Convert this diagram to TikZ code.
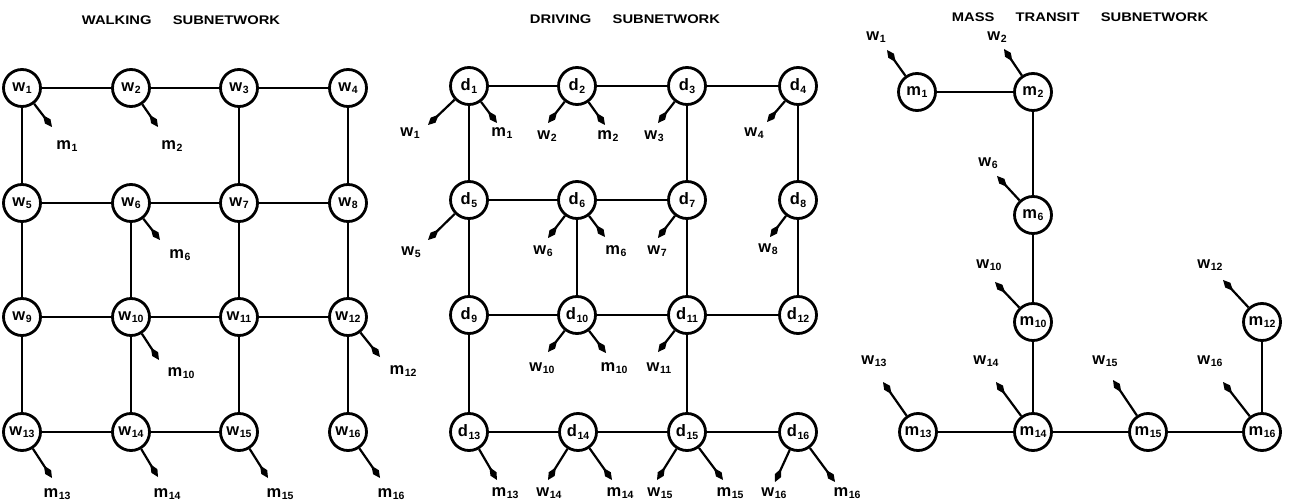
\documentclass[tikz,border=0pt]{standalone}
\usepackage{fontspec}
\setmainfont{Liberation Sans}
\usetikzlibrary{arrows.meta}
\newcommand\bigf{\fontsize{16.5}{16.5}\selectfont\bfseries}
\newcommand\ttlf{\fontsize{12.5}{12.5}\selectfont\bfseries}
\newcommand\lb[2]{#1\kern0.6pt\raisebox{-2.2pt}{\fontsize{10.5}{10.5}\selectfont\bfseries #2}}
\newcommand\ttl[1]{\scalebox{1.18}[1]{#1}}
\tikzset{
  nd/.style={circle,draw,line width=2.8pt,minimum size=37pt,inner sep=0pt,font=\bigf},
  ed/.style={line width=2.4pt},
  arr/.style={line width=2.2pt,-{Kite[length=15pt,width=7pt,inset=8pt]}},
  lab/.style={inner sep=0pt,font=\bigf},
  ttlnode/.style={inner sep=0pt,font=\ttlf}
}
\begin{document}
\begin{tikzpicture}[x=1pt,y=-1pt]
\useasboundingbox (0,0) rectangle (1289,502);
% titles
\node[ttlnode] (t1) at (181,20) {\ttl{WALKING\hspace{18pt}SUBNETWORK}};
\node[ttlnode] (t2) at (625,19) {\ttl{DRIVING\hspace{18pt}SUBNETWORK}};
\node[ttlnode] (t3) at (1080,17) {\ttl{MASS\hspace{18pt}TRANSIT\hspace{18pt}SUBNETWORK}};
% ---------- walking ----------
\foreach \i/\x/\y in {1/22/88,2/131/88,3/239/88,4/348/88,
  5/22/203,6/131/203,7/239/203,8/348/203,
  9/22/317,10/131/317,11/239/317,12/348/317,
  13/22/432,14/131/432,15/239/432,16/348/432}
  \node[nd] (w\i) at (\x,\y) {\lb{w}{\i}};
\foreach \a/\b in {1/2,2/3,3/4,5/6,6/7,7/8,9/10,10/11,11/12,13/14,14/15,
  1/5,5/9,9/13,6/10,10/14,3/7,7/11,11/15,4/8,8/12,12/16}
  \draw[ed] (w\a) -- (w\b);
\foreach \n/\tx/\ty/\lx/\ly in {1/52/127/67/146,2/158/127/172/146,6/160/240/180/255,
  10/159/360/181/373,12/380/357/403/371,13/52/478/57/494,14/158/477/167/494,
  15/268/478/280/494,16/380/478/391/494}{
  \coordinate (wt\n) at (\tx,\ty);
  \draw[arr] (w\n) -- (wt\n);
  \node[lab] (wm\n) at (\lx,\ly) {\lb{m}{\n}};
}
% ---------- driving ----------
\foreach \i/\x/\y in {1/469/86,2/577/86,3/687/86,4/798/86,
  5/469/200,6/577/200,7/687/200,8/798/200,
  9/469/315,10/577/315,11/687/315,12/798/315,
  13/469/432,14/578/432,15/687/432,16/798/432}
  \node[nd] (d\i) at (\x,\y) {\lb{d}{\i}};
\foreach \a/\b in {1/2,2/3,3/4,5/6,6/7,9/10,10/11,11/12,13/14,14/15,15/16,
  1/5,5/9,9/13,6/10,3/7,7/11,11/15,4/8,8/12}
  \draw[ed] (d\a) -- (d\b);
\foreach \n/\tx/\ty/\lx/\ly in {1/428/125/410/133,2/548/123/547/136,3/658/123/654/136,
  4/767/122/754/133,5/428/240/411/252,6/548/238/543/251,7/658/238/657/251,
  8/770/237/768/249,10/548/352/542/368,11/658/352/659/368,14/548/480/549/493,
  15/657/480/660/493,16/775/482/774/493}{
  \coordinate (dtw\n) at (\tx,\ty);
  \draw[arr] (d\n) -- (dtw\n);
  \node[lab] (dw\n) at (\lx,\ly) {\lb{w}{\n}};
}
\foreach \n/\tx/\ty/\lx/\ly in {1/497/123/502/133,2/605/125/608/136,6/605/237/616/251,
  10/606/353/614/368,13/497/480/505/493,14/612/480/620/493,15/723/480/730/493,
  16/835/482/847/493}{
  \coordinate (dtm\n) at (\tx,\ty);
  \draw[arr] (d\n) -- (dtm\n);
  \node[lab] (dm\n) at (\lx,\ly) {\lb{m}{\n}};
}
% ---------- mass transit ----------
\foreach \i/\x/\y in {1/917/92,2/1033/92,6/1033/215,10/1033/322,12/1262/322,
  13/918/432,14/1033/432,15/1148/432,16/1262/432}
  \node[nd] (m\i) at (\x,\y) {\lb{m}{\i}};
\foreach \a/\b in {1/2,2/6,6/10,10/14,13/14,14/15,15/16,16/12}
  \draw[ed] (m\a) -- (m\b);
\foreach \n/\tx/\ty/\lx/\ly in {1/887/50/876/37,2/1004/49/997/37,6/997/176/988/163,
  10/995/282/989/265,12/1223/280/1210/265,13/883/382/874/361,14/996/382/986/361,
  15/1113/380/1105/361,16/1223/382/1210/361}{
  \coordinate (mt\n) at (\tx,\ty);
  \draw[arr] (m\n) -- (mt\n);
  \node[lab] (mw\n) at (\lx,\ly) {\lb{w}{\n}};
}
\end{tikzpicture}
\end{document}
